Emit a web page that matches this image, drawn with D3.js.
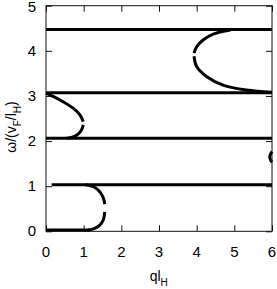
<!DOCTYPE html>
<html>
<head>
<meta charset="utf-8">
<script src="https://cdn.jsdelivr.net/npm/d3@7"></script>
<style>
body { margin: 0; background: #fff; }
svg { display: block; font-family: "Liberation Sans", Arial, sans-serif; }
.tick-label { font-size: 15px; fill: #000; }
.title { font-size: 14px; fill: #000; }
.band { fill: none; stroke: #000; stroke-width: 3; }
</style>
</head>
<body>
<svg id="chart" width="277" height="289"></svg>
<script>
//data
var qTicks = [0, 1, 2, 3, 4, 5, 6];
var omegaTicks = [0, 1, 2, 3, 4, 5];

// flat bands: level, start q, end q
var flatOmega = [0.03, 1.03, 2.06, 3.07, 4.47];
var flatStart = [0, 0.15, 0, 0, 0];
var flatEnd = [1.15, 6, 6, 6, 6];

// curved branches, [q, omega]
var lowUpper = [[1.05, 1.03], [1.3, 0.97], [1.45, 0.85], [1.53, 0.72], [1.56, 0.6]];
var lowLower = [[1.56, 0.43], [1.52, 0.25], [1.42, 0.13], [1.28, 0.06], [1.12, 0.03]];
var midUpper = [[0, 3.06], [0.37, 2.91], [0.72, 2.73], [0.9, 2.58], [0.99, 2.43]];
var midLower = [[0.99, 2.36], [0.95, 2.26], [0.86, 2.16], [0.72, 2.09], [0.55, 2.06]];
var highUpper = [[4.9, 4.46], [4.44, 4.37], [4.17, 4.24], [4.0, 4.09], [3.93, 3.95]];
var highLower = [[3.93, 3.88], [4.0, 3.65], [4.26, 3.43], [4.7, 3.24], [5.32, 3.13], [6, 3.08]];
var edgeArc = [[6, 1.77], [5.96, 1.71], [5.94, 1.65], [5.96, 1.58], [6, 1.53]];

var branches = [lowUpper, lowLower, midUpper, midLower, highUpper, highLower, edgeArc];

//params
var W = 277, H = 289;
var M = {left: 46, right: 5, top: 5.7, bottom: 57.7};
var TICK = 6;

var svg = d3.select('#chart');
var x = d3.scaleLinear().domain([0, 6]).range([M.left, W - M.right]);
var y = d3.scaleLinear().domain([0, 5]).range([H - M.bottom, M.top]);

// frame
svg.append('rect')
	.attr('x', x(0)).attr('y', y(5))
	.attr('width', x(6) - x(0)).attr('height', y(0) - y(5))
	.attr('fill', 'none').attr('stroke', '#111').attr('stroke-width', 1);

// inward ticks on all four sides
svg.append('g').attr('transform', 'translate(0,' + y(0) + ')')
	.call(d3.axisTop(x).tickValues(qTicks).tickSize(TICK).tickFormat('').tickSizeOuter(0));
svg.append('g').attr('transform', 'translate(0,' + y(5) + ')')
	.call(d3.axisBottom(x).tickValues(qTicks).tickSize(TICK).tickFormat('').tickSizeOuter(0));
svg.append('g').attr('transform', 'translate(' + x(0) + ',0)')
	.call(d3.axisRight(y).tickValues(omegaTicks).tickSize(TICK).tickFormat('').tickSizeOuter(0));
svg.append('g').attr('transform', 'translate(' + x(6) + ',0)')
	.call(d3.axisLeft(y).tickValues(omegaTicks).tickSize(TICK).tickFormat('').tickSizeOuter(0));
svg.selectAll('.domain').remove();
svg.selectAll('.tick line').attr('stroke', '#111');

// tick labels
svg.selectAll('.xlab').data(qTicks).enter().append('text')
	.attr('class', 'tick-label')
	.attr('x', function(d){ return x(d); })
	.attr('y', y(0) + 26)
	.attr('text-anchor', 'middle')
	.text(function(d){ return d; });
svg.selectAll('.ylab').data(omegaTicks).enter().append('text')
	.attr('class', 'tick-label')
	.attr('x', x(0) - 10)
	.attr('y', function(d){ return Math.max(y(d) + 4.8, 11.7); }) // keep top label inside
	.attr('text-anchor', 'end')
	.text(function(d){ return d; });

// axis titles
var xt = svg.append('text').attr('class', 'title')
	.attr('x', 158.7).attr('y', 280.5)
	.attr('text-anchor', 'middle');
xt.append('tspan').text('ql');
xt.append('tspan').attr('dy', 5).style('font-size', '10px').text('H');

var yt = svg.append('text').attr('class', 'title')
	.attr('transform', 'translate(16,127) rotate(-90)')
	.attr('text-anchor', 'middle');
yt.append('tspan').text('ω/(v');
yt.append('tspan').attr('dy', 5).style('font-size', '10px').text('F');
yt.append('tspan').attr('dy', -5).text('/l');
yt.append('tspan').attr('dy', 5).style('font-size', '10px').text('H');
yt.append('tspan').attr('dy', -5).text(')');

// flat bands
svg.selectAll('.flat').data(flatOmega).enter().append('line')
	.attr('class', 'band')
	.attr('x1', function(d, i){ return x(flatStart[i]); })
	.attr('x2', function(d, i){ return x(flatEnd[i]); })
	.attr('y1', function(d){ return y(d); })
	.attr('y2', function(d){ return y(d); });

// curved branches
var line = d3.line()
	.x(function(d){ return x(d[0]); })
	.y(function(d){ return y(d[1]); })
	.curve(d3.curveCatmullRom);
svg.selectAll('.curve').data(branches).enter().append('path')
	.attr('class', 'band')
	.attr('d', line);
</script>
</body>
</html>
